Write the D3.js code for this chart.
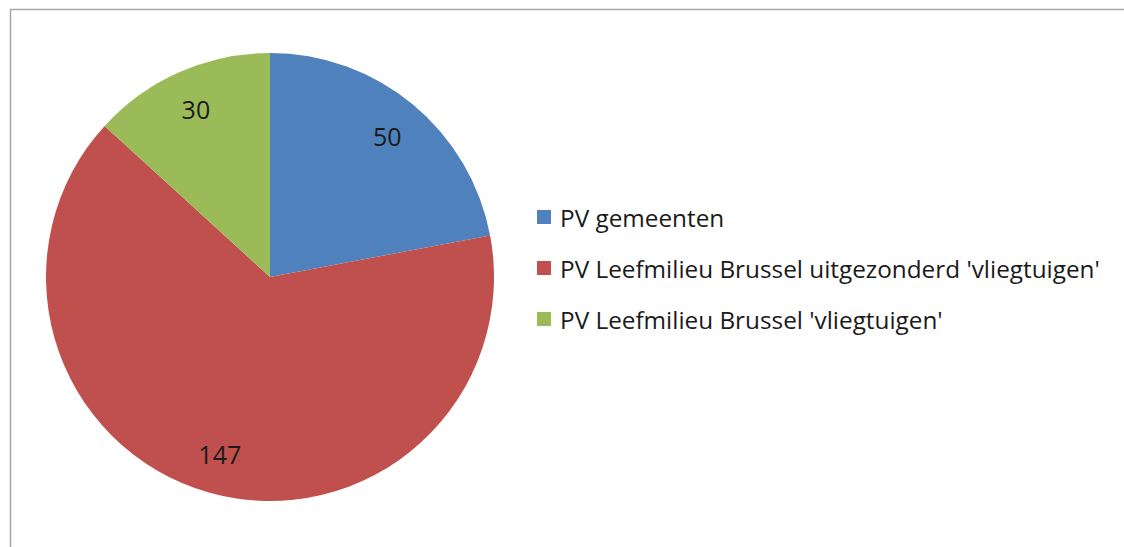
<!DOCTYPE html>
<html><head><meta charset="utf-8">
<script src="https://cdn.jsdelivr.net/npm/d3@7"></script>
<style>body{margin:0;background:#fff}svg{display:block}text{font-family:"Open Sans",sans-serif;fill:#1a1a1a}</style>
</head><body><svg id="c" width="1124" height="547"></svg>
<script>
const categories = ["PV gemeenten", "PV Leefmilieu Brussel uitgezonderd 'vliegtuigen'", "PV Leefmilieu Brussel 'vliegtuigen'"];
const values = [50, 147, 30];
const colors = ["#4F81BD", "#C0504D", "#9BBB59"];

const svg = d3.select("#c");
svg.append("rect").attr("x",10.5).attr("y",9.5).attr("width",1200).attr("height",600)
  .attr("fill","#fff").attr("stroke","#a6a6a6").attr("stroke-width",1.5);

const cx = 270, cy = 277, r = 224;
const data = categories.map((c,i)=>({c, v: values[i], col: colors[i]}));
const pie = d3.pie().value(d=>d.v).sort(null);
const arc = d3.arc().innerRadius(0).outerRadius(r);
const labelArc = d3.arc().innerRadius(r*0.82).outerRadius(r*0.82);
const g = svg.append("g").attr("transform",`translate(${cx},${cy})`);
const arcs = pie(data);
g.selectAll("path").data(arcs).join("path").attr("d",arc).attr("fill",d=>d.data.col);
g.selectAll("text.l").data(arcs).join("text").attr("class","l")
  .attr("transform",d=>`translate(${labelArc.centroid(d)})`)
  .attr("text-anchor","middle").attr("dominant-baseline","central")
  .style("font-size","25px").text(d=>d.data.v);

const lg = svg.append("g").attr("transform","translate(537,0)");
const rowY = [217, 268, 319];
const items = lg.selectAll("g").data(data).join("g").attr("transform",(d,i)=>`translate(0,${rowY[i]})`);
items.append("rect").attr("x",0).attr("y",-7).attr("width",14).attr("height",14).attr("fill",d=>d.col);
const t = items.append("text").attr("x",23).attr("dominant-baseline","central").style("font-size","19px").text(d=>d.c);
const w = t.nodes()[1].getComputedTextLength();
const fs = 19 * 540 / w;
t.style("font-size", fs + "px");
</script></body></html>
